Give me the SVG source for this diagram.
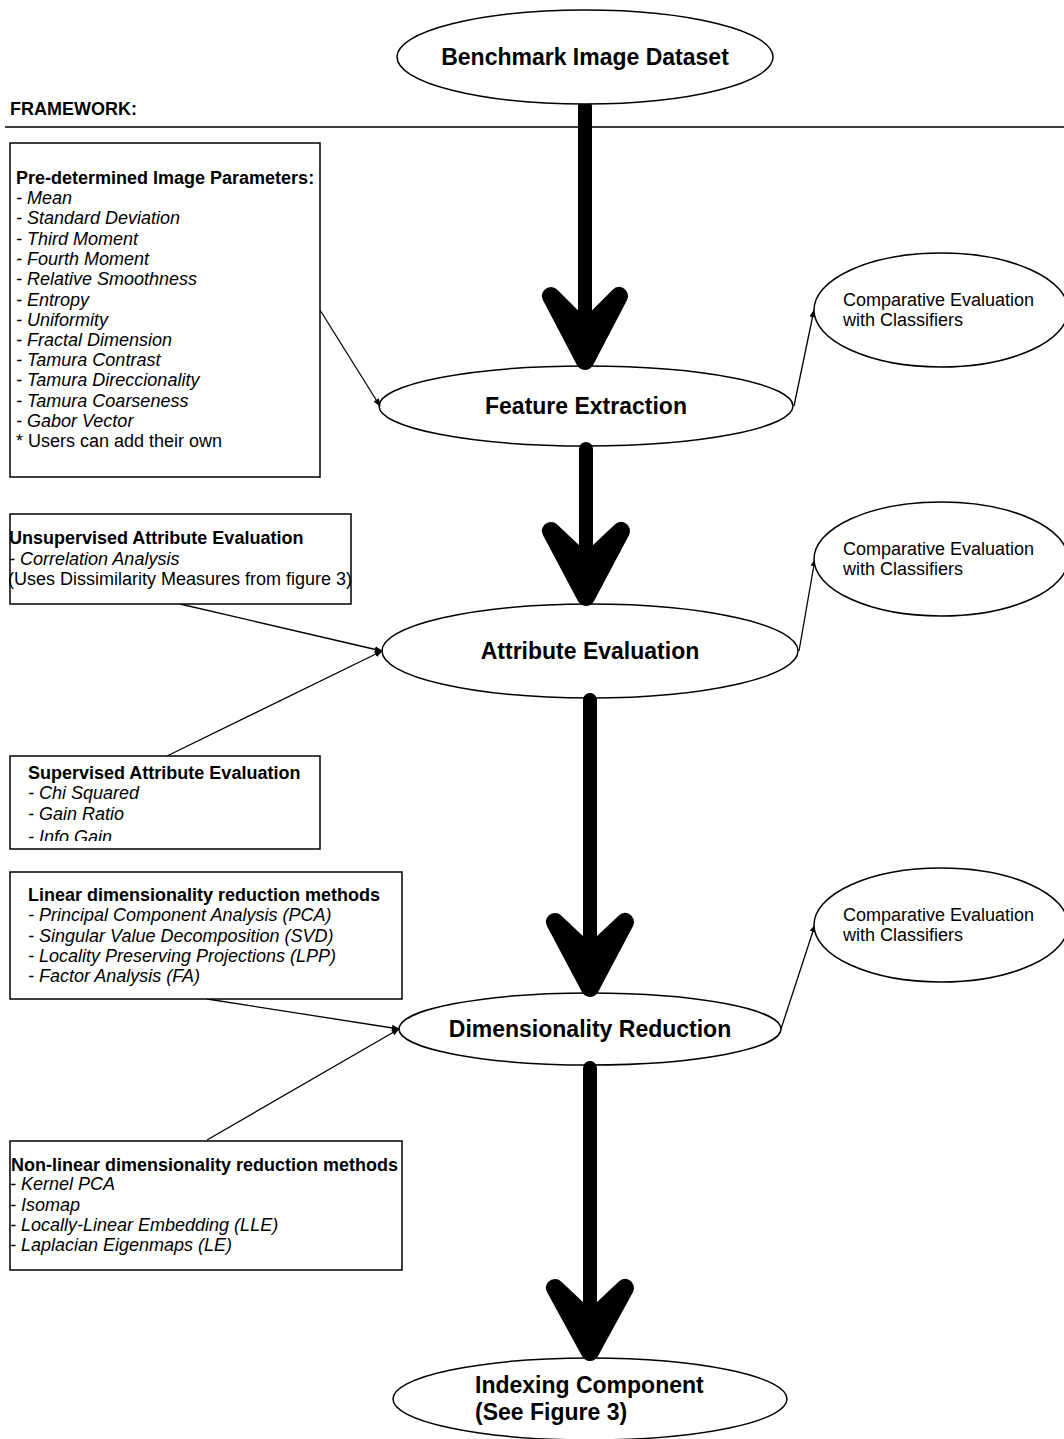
<svg xmlns="http://www.w3.org/2000/svg" width="1064" height="1439" viewBox="0 0 1064 1439">
<style>
text{font-family:"Liberation Sans",Arial,sans-serif;fill:#000}
.big{font-size:23px;font-weight:bold}
.b{font-size:18px;font-weight:bold}
.n{font-size:18px}
.i{font-size:18px;font-style:italic}
.node{fill:#fff;stroke:#000;stroke-width:1.5}
.box{fill:#fff;stroke:#000;stroke-width:1.5}
.thin{stroke:#000;stroke-width:1.3;fill:none}
.shaft{stroke:#000;stroke-width:14;stroke-linecap:round;fill:none}
.head{stroke:#000;stroke-width:18;stroke-linecap:round;stroke-linejoin:round;fill:#000}
</style>
<defs>
<marker id="ah" viewBox="0 0 10 10" refX="9" refY="5" markerWidth="8" markerHeight="8" markerUnits="userSpaceOnUse" orient="auto">
<path d="M0,1 L10,5 L0,9 z" fill="#000"/>
</marker>
<clipPath id="c3"><rect x="10" y="756" width="310" height="85"/></clipPath>
</defs>
<rect width="1064" height="1439" fill="#fff"/>

<g id="framework">
<text x="10" y="115" class="b">FRAMEWORK:</text>
<line x1="5" y1="127" x2="1064" y2="127" stroke="#000" stroke-width="1.5"/>
</g>

<g id="connectors">
<line class="shaft" x1="585" y1="106" x2="585" y2="355"/>
<polygon class="head" points="551,296 585,361 619,296 585,330"/>
<line class="shaft" x1="586" y1="449" x2="586" y2="590"/>
<polygon class="head" points="551,531 586,597 621,531 586,564"/>
<line class="shaft" x1="590" y1="700" x2="590" y2="980"/>
<polygon class="head" points="555,922 590,988 625,922 590,955"/>
<line class="shaft" x1="590" y1="1068" x2="590" y2="1345"/>
<polygon class="head" points="555,1288 590,1352 625,1288 590,1321"/>
<line class="thin" x1="320" y1="310" x2="380" y2="406" marker-end="url(#ah)"/>
<line class="thin" x1="180" y1="604" x2="382" y2="651" marker-end="url(#ah)"/>
<line class="thin" x1="167" y1="756" x2="382" y2="651" marker-end="url(#ah)"/>
<line class="thin" x1="207" y1="999" x2="399" y2="1029" marker-end="url(#ah)"/>
<line class="thin" x1="207" y1="1140" x2="399" y2="1029" marker-end="url(#ah)"/>
<line class="thin" x1="794" y1="406" x2="814" y2="310" marker-end="url(#ah)"/>
<line class="thin" x1="799" y1="651" x2="815" y2="559" marker-end="url(#ah)"/>
<line class="thin" x1="781" y1="1029" x2="815" y2="925" marker-end="url(#ah)"/>
</g>

<g id="benchmark">
<ellipse class="node" cx="585" cy="57" rx="188" ry="47"/>
<text x="585" y="65" class="big" text-anchor="middle">Benchmark Image Dataset</text>
</g>

<g id="feature-extraction">
<ellipse class="node" cx="586" cy="406" rx="207" ry="40" fill-opacity="0"/>
<text x="586" y="414" class="big" text-anchor="middle">Feature Extraction</text>
</g>

<g id="attribute-evaluation">
<ellipse class="node" cx="590" cy="651" rx="208" ry="47" fill-opacity="0"/>
<text x="590" y="659" class="big" text-anchor="middle">Attribute Evaluation</text>
</g>

<g id="dimensionality-reduction">
<ellipse class="node" cx="590" cy="1029" rx="191" ry="36" fill-opacity="0"/>
<text x="590" y="1037" class="big" text-anchor="middle">Dimensionality Reduction</text>
</g>

<g id="indexing">
<ellipse class="node" cx="590" cy="1399" rx="197" ry="41" fill-opacity="0"/>
<text x="475" y="1393" class="big">Indexing Component</text>
<text x="475" y="1420" class="big">(See Figure 3)</text>
</g>

<g id="comparative-1">
<ellipse class="node" cx="941" cy="310" rx="127" ry="57"/>
<text x="843" y="306" class="n">Comparative Evaluation</text>
<text x="843" y="326" class="n">with Classifiers</text>
</g>
<g id="comparative-2">
<ellipse class="node" cx="941" cy="559" rx="127" ry="57"/>
<text x="843" y="555" class="n">Comparative Evaluation</text>
<text x="843" y="575" class="n">with Classifiers</text>
</g>
<g id="comparative-3">
<ellipse class="node" cx="941" cy="925" rx="127" ry="57"/>
<text x="843" y="921" class="n">Comparative Evaluation</text>
<text x="843" y="941" class="n">with Classifiers</text>
</g>

<g id="params-box">
<rect class="box" x="10" y="143" width="310" height="334"/>
<text x="16" y="184" class="b">Pre-determined Image Parameters:</text>
<text x="16" y="204" class="i">- Mean</text>
<text x="16" y="224" class="i">- Standard Deviation</text>
<text x="16" y="245" class="i">- Third Moment</text>
<text x="16" y="265" class="i">- Fourth Moment</text>
<text x="16" y="285" class="i">- Relative Smoothness</text>
<text x="16" y="306" class="i">- Entropy</text>
<text x="16" y="326" class="i">- Uniformity</text>
<text x="16" y="346" class="i">- Fractal Dimension</text>
<text x="16" y="366" class="i">- Tamura Contrast</text>
<text x="16" y="386" class="i">- Tamura Direccionality</text>
<text x="16" y="407" class="i">- Tamura Coarseness</text>
<text x="16" y="427" class="i">- Gabor Vector</text>
<text x="16" y="447" class="n">* Users can add their own</text>
</g>

<g id="unsupervised-box">
<rect class="box" x="10" y="514" width="341" height="90"/>
<text x="9" y="544" class="b">Unsupervised Attribute Evaluation</text>
<text x="9" y="565" class="i">- Correlation Analysis</text>
<text x="8" y="585" class="n">(Uses Dissimilarity Measures from figure 3)</text>
</g>

<g id="supervised-box">
<rect class="box" x="10" y="756" width="310" height="93"/>
<g clip-path="url(#c3)">
<text x="28" y="779" class="b">Supervised Attribute Evaluation</text>
<text x="28" y="799" class="i">- Chi Squared</text>
<text x="28" y="820" class="i">- Gain Ratio</text>
<text x="28" y="843" class="i">- Info Gain</text>
</g>
</g>

<g id="linear-box">
<rect class="box" x="10" y="872" width="392" height="127"/>
<text x="28" y="901" class="b">Linear dimensionality reduction methods</text>
<text x="28" y="921" class="i">- Principal Component Analysis (PCA)</text>
<text x="28" y="942" class="i">- Singular Value Decomposition (SVD)</text>
<text x="28" y="962" class="i">- Locality Preserving Projections (LPP)</text>
<text x="28" y="982" class="i">- Factor Analysis (FA)</text>
</g>

<g id="nonlinear-box">
<rect class="box" x="10" y="1141" width="392" height="129"/>
<text x="11" y="1171" class="b">Non-linear dimensionality reduction methods</text>
<text x="10" y="1190" class="i">- Kernel PCA</text>
<text x="10" y="1211" class="i">- Isomap</text>
<text x="10" y="1231" class="i">- Locally-Linear Embedding (LLE)</text>
<text x="10" y="1251" class="i">- Laplacian Eigenmaps (LE)</text>
</g>
</svg>
